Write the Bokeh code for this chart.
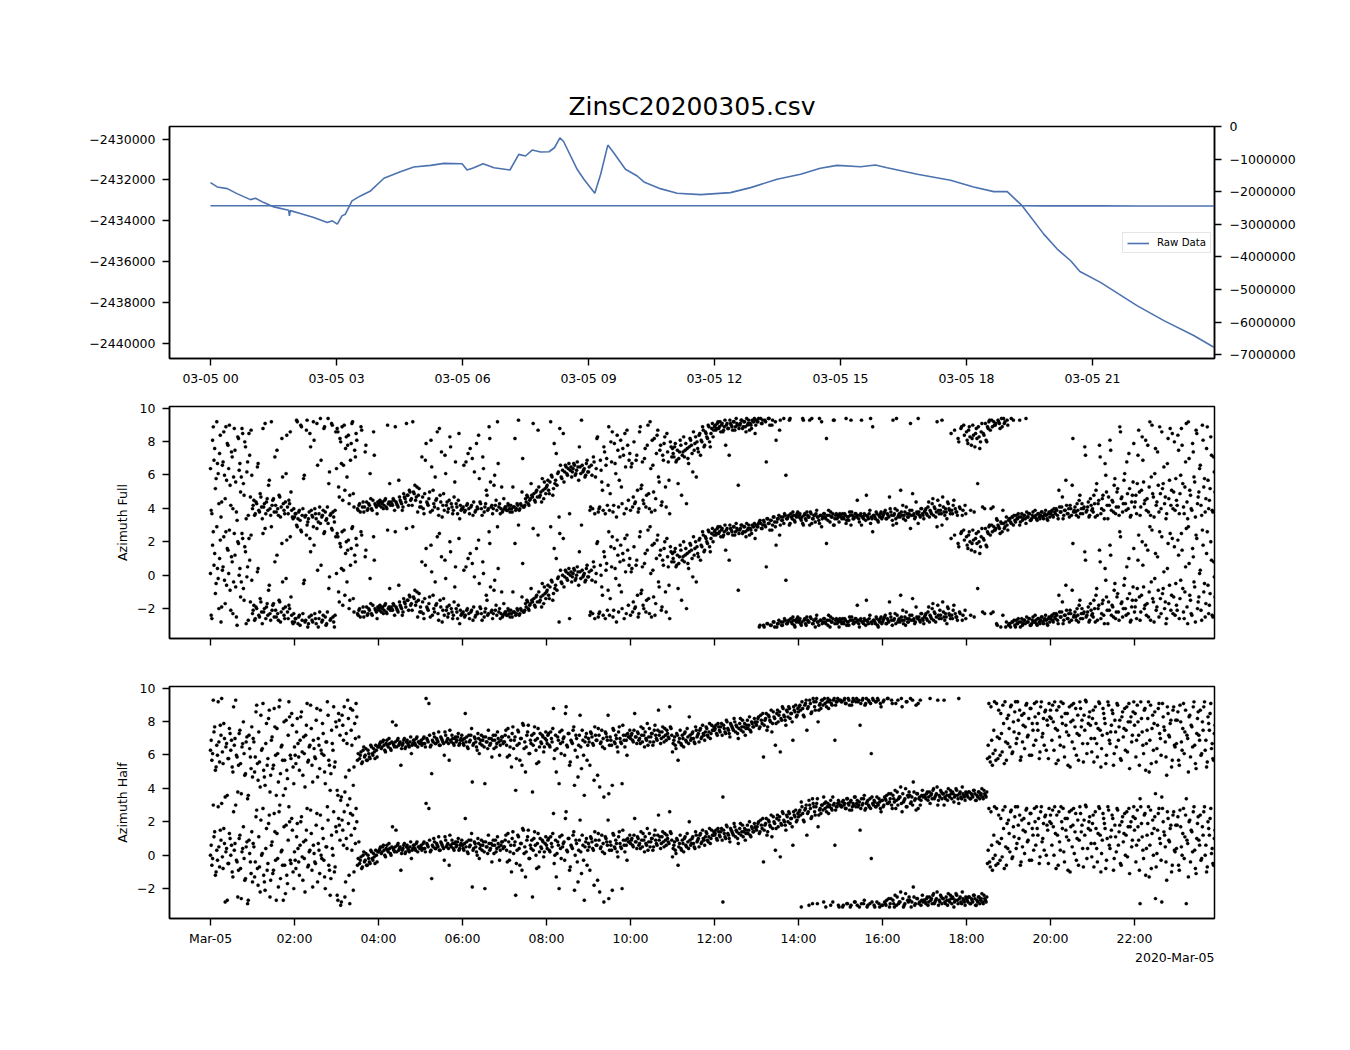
import numpy as np
from bokeh.plotting import figure
from bokeh.models import (Range1d, LinearAxis, FixedTicker, Legend, LegendItem, Title,
                          CustomLabelingPolicy)
from bokeh.layouts import column
from bokeh.embed import file_html
from bokeh.resources import INLINE

FONT = "DejaVu Sans"
TITLE = "ZinsC20200305.csv"

# ---- top panel: raw data (hours since 2020-03-05 00:00, value) ----
raw_hours = [0.00, 0.16, 0.40, 0.63, 0.95, 1.07, 1.27, 1.51, 1.86, 1.88, 1.90, 2.14, 2.46, 2.78,
             2.90, 3.02, 3.13, 3.21, 3.37, 3.57, 3.81, 4.13, 4.52, 4.84, 5.24, 5.56, 5.99, 6.11,
             6.27, 6.49, 6.75, 7.13, 7.34, 7.50, 7.66, 7.86, 8.06, 8.19, 8.32, 8.41, 8.73, 8.89,
             9.15, 9.29, 9.46, 9.60, 9.88, 10.16, 10.32, 10.71, 11.11, 11.67, 12.38, 12.86, 13.49,
             14.05, 14.52, 14.92, 15.48, 15.83, 16.11, 16.83, 17.62, 18.17, 18.65, 18.97, 19.33,
             19.84, 20.16, 20.48, 20.70, 21.19, 22.06, 22.70, 23.41, 23.89]
raw_values = [-2432132, -2432341, -2432424, -2432668, -2432961, -2432893, -2433107, -2433317,
              -2433478, -2433756, -2433500, -2433644, -2433839, -2434083, -2434000, -2434161,
              -2433756, -2433673, -2433024, -2432780, -2432537, -2431917, -2431595, -2431366,
              -2431285, -2431187, -2431205, -2431512, -2431400, -2431205, -2431400, -2431512,
              -2430748, -2430829, -2430537, -2430634, -2430619, -2430424, -2429937, -2430132,
              -2431478, -2431966, -2432649, -2431722, -2430293, -2430668, -2431478, -2431805,
              -2432097, -2432424, -2432649, -2432717, -2432619, -2432375, -2431966, -2431722,
              -2431429, -2431285, -2431351, -2431268, -2431400, -2431722, -2432015, -2432341,
              -2432570, -2432570, -2433268, -2434649, -2435380, -2435951, -2436473, -2437010,
              -2438146, -2438878, -2439610, -2440180]

left_ticks = [-2440000, -2438000, -2436000, -2434000, -2432000, -2430000]
right_ticks = [-7000000, -6000000, -5000000, -4000000, -3000000, -2000000, -1000000, 0]
top_x_ticks = [0, 3, 6, 9, 12, 15, 18, 21]
top_x_labels = ["03-05 00", "03-05 03", "03-05 06", "03-05 09", "03-05 12", "03-05 15",
                "03-05 18", "03-05 21"]
bot_x_ticks = [0, 2, 4, 6, 8, 10, 12, 14, 16, 18, 20, 22]
bot_x_labels = ["Mar-05", "02:00", "04:00", "06:00", "08:00", "10:00", "12:00", "14:00",
                "16:00", "18:00", "20:00", "22:00"]
az_ticks = [-2, 0, 2, 4, 6, 8, 10]
offset_label = "2020-Mar-05"

# ---- azimuth samples (radians), 30 per hour row; even minutes (a) and odd minutes (b) ----
minutes_a = list(range(0, 1440, 2))
minutes_b = list(range(1, 1440, 2))
azimuth_full_a = [
    0.1, -2.6, 2.6, 1.3, -0.5, 0.4, -2.0, 2.1, -1.9, 0.5, -0.3, 2.6, 1.6, 0.1, -0.9, 1.1, -2.3, 2.5, -0.7, -3.0, 1.9, 0.4, -0.4, 2.2, -1.5, 1.4, -0.1, -2.7, 0.9, 2.4,
    -2.3, -1.8, -2.6, -2.0, 0.4, -2.5, -1.6, -2.9, -2.2, 2.8, -1.9, -2.4, -0.6, -2.7, -2.1, -1.7, 0.8, -2.5, -2.3, -1.5, -2.8, 1.9, -2.0, -2.6, -0.2, -2.2, -1.8, 2.3, -2.4, -2.9,
    -2.8, -2.6, 2.9, -2.5, -3.0, 2.6, -2.3, -0.3, -2.7, 3.0, -2.9, 2.2, -2.4, -2.8, 1.8, -2.6, 2.8, -3.1, -2.2, 0.6, -2.7, 2.5, -2.5, -2.9, 3.1, -0.1, -2.6, 2.7, -2.8, -2.4,
    0.1, 2.3, -1.6, 1.7, 2.6, 0.3, -1.2, 2.0, 1.5, -2.0, 0.6, 2.8, -1.4, 1.2, 2.2, -2.3, -2.1, -2.5, 2.4, -1.9, -2.2, 1.5, -2.4, -2.0, -0.2, -2.3, -1.8, 0.9, -2.1, -2.6,
    -2.0, -1.8, -2.2, -1.9, -2.1, -1.7, -2.3, -2.0, -0.8, -1.9, -2.1, -1.8, 2.6, -2.0, -2.2, -1.6, -1.9, -2.4, -1.4, -1.7, 2.8, -1.5, -1.2, -1.8, -2.1, -1.3, -0.9, -1.6, -2.5, -1.1,
    -1.9, 0.8, -2.3, -1.4, 1.6, -2.0, -1.7, -2.5, 0.2, -1.2, -2.2, -1.8, 2.3, -2.7, -1.5, 1.1, -2.1, -2.4, -0.2, -1.9, -2.3, 2.0, -2.0, -2.6, -1.6, 0.5, -2.2, -1.8, -2.9, -2.4,
    -2.3, 0.3, -2.4, -2.1, 1.0, -2.6, -2.2, 0.7, -1.9, -2.5, 1.6, -2.3, -0.5, -2.0, -2.7, 0.1, -2.2, -1.2, -2.4, 2.6, -0.7, -2.1, -2.3, -0.3, -1.8, 2.9, -2.2, -2.6, -1.0, -2.4,
    -2.3, -2.2, -2.4, -2.1, -2.5, -2.3, -1.0, -2.2, -2.4, -2.0, 3.0, -2.3, -2.1, 0.7, -2.2, -1.7, -1.5, -2.0, -1.8, -0.8, -1.6, -1.4, -1.9, -1.2, 2.4, -1.6, -1.3, -0.5, -1.7, -1.1,
    -1.0, -0.6, -1.4, 2.9, -0.4, -1.1, -0.8, 1.0, -0.2, -2.8, 0.3, -0.5, 2.2, -0.1, 0.2, -0.3, 0.4, 0.0, -0.4, 0.1, 0.3, -0.2, 0.5, -0.6, 0.2, 3.0, -0.1, 0.1, -0.3, 0.6,
    -0.1, -2.4, 0.3, -2.3, 0.5, -0.4, 1.9, -2.5, -2.2, 0.0, -1.2, 1.4, -2.6, 0.7, -0.9, -2.4, 1.7, 2.3, -2.1, 0.4, -2.8, 1.2, -0.6, 1.8, -2.0, 0.9, 2.2, -2.3, 1.5, 0.6,
    -2.4, 0.4, -1.6, -2.0, 0.6, -1.2, -2.3, 2.6, -0.9, -1.8, 0.7, -2.2, 1.5, -1.4, 2.9, -2.5, 0.3, 1.9, -1.7, 2.1, -0.4, 1.2, -2.1, 0.9, 1.6, -1.0, 2.2, 0.5, -2.6, 1.4,
    1.3, 0.8, 1.6, 0.6, -0.8, 1.1, 1.5, 0.9, 2.0, 1.2, -2.0, 0.7, 1.4, 1.8, 1.0, 2.3, 1.6, -0.4, 1.3, 2.1, 0.9, 1.7, 2.4, 1.5, 2.2, 1.9, 2.6, 1.4, 2.5, 2.0,
    2.6, 2.4, 2.8, 2.5, 2.9, 2.7, 2.3, 2.6, 1.5, 2.8, 2.5, 3.0, 2.7, 2.4, 2.9, 2.6, 2.8, -0.9, 2.7, 3.0, 2.5, 2.9, 2.6, 3.1, 2.8, 2.4, 2.7, 3.0, 2.9, 2.2,
    3.0, 2.9, -3.1, 3.1, 2.8, -3.0, 3.0, 0.5, -2.9, 3.1, -3.0, 2.7, -2.8, -3.1, 1.8, -2.9, -2.7, 3.0, -3.0, -2.8, -2.6, -0.3, -2.9, -2.7, 3.1, -2.8, -2.5, -3.0, -2.7, -2.6,
    -2.8, -2.6, -3.0, 3.1, -2.7, -2.9, -2.5, -2.8, 3.0, -2.6, -2.9, -2.7, -3.1, -2.4, -2.8, 3.1, -2.7, -2.9, -2.6, -2.8, 1.9, -3.0, -2.7, -2.5, -2.8, 3.0, -2.9, -2.6, -2.7, -3.1,
    -2.7, -2.9, -2.8, -2.6, 3.1, -2.8, -3.0, -2.7, -2.5, -2.9, -2.8, -2.6, -1.8, -2.9, -2.7, 3.0, -2.8, -2.6, -3.0, -2.7, -2.9, -2.4, -2.8, 2.6, -2.7, -2.9, -2.6, -3.1, -2.8, -2.5,
    -2.8, -2.6, -2.4, -2.9, -2.7, -1.6, -2.5, -3.0, -2.7, -2.3, 3.1, -2.8, -2.6, -1.2, -2.7, -2.9, -2.5, -2.2, -2.8, -2.6, 2.8, -2.4, -2.7, -2.9, -1.9, -2.6, -2.5, -2.8, -2.3, -2.7,
    -2.5, -2.3, -2.7, -1.9, -2.4, -2.6, -1.7, -2.2, -2.8, 2.9, -2.4, -2.1, -2.6, -1.6, -2.5, -2.3, -2.9, -2.0, -2.4, 2.2, -2.6, -1.8, -2.3, -2.5, 1.9, -2.2, 2.5, -2.7, 2.7, -2.1,
    2.3, 1.6, 2.6, -2.4, 1.9, 2.1, 1.4, 2.5, -0.8, 2.0, 1.7, 2.8, 2.2, -2.3, 1.8, 2.6, 2.9, 2.4, 3.0, -2.2, 2.7, 2.8, -3.0, 2.9, 2.5, 3.1, -2.4, 2.8, -3.1, 3.0,
    -3.0, -2.9, 3.1, -2.8, -2.7, -3.1, -2.9, -2.6, 3.0, -2.8, -3.0, -2.7, -2.9, -2.5, -2.8, -2.6, -3.0, -2.7, -2.8, -2.4, -2.9, -2.6, -2.8, -2.7, -2.5, -2.9, -2.6, -2.7, -3.0, -2.5,
    -2.6, -2.4, -2.8, -2.5, -2.3, -2.7, -1.2, -2.5, -2.2, -2.9, -2.4, -0.6, -2.6, -2.3, -2.1, -2.7, 1.9, -2.4, -2.5, -2.0, -2.8, -1.5, -2.3, -2.6, -2.2, 0.9, -2.4, -1.9, -2.7, -2.1,
    -2.3, -1.5, -2.8, -0.8, -2.0, 1.5, -2.6, -1.7, -2.4, 0.4, -1.3, -2.9, -2.1, 1.2, -1.8, -2.5, -0.5, -2.2, -1.1, -2.7, 2.3, -1.6, -2.0, -0.2, -2.4, -1.4, 1.0, -2.8, -1.9, -0.7,
    -2.2, -1.5, -0.8, 2.4, -2.7, -1.2, 0.6, -2.0, 1.8, -1.7, -2.5, 2.9, -0.4, -1.4, -2.8, 1.3, -1.9, -0.9, 2.6, -2.3, -1.1, 0.2, -1.6, -2.6, 1.9, -0.6, -2.1, 2.2, -1.3, -2.4,
    -1.8, 2.1, -2.6, -0.3, 1.5, -2.2, -1.0, 2.8, -2.9, 0.7, -1.5, -2.4, 1.1, -0.7, 2.4, -2.0, -1.3, 0.3, -2.7, 1.8, -0.5, -1.7, 2.6, -2.3, -1.1, 0.9, -2.5, -0.1, 1.4, -1.9,
]
azimuth_full_b = [
    -2.4, 1.8, 0.6, -1.1, 2.9, -0.2, 1.0, -2.8, 0.3, 2.3, -1.7, -0.6, 1.5, 2.7, -2.1, 0.8, -0.4, 1.2, -2.5, 2.0, 0.0, -1.3, 2.5, -0.8, 1.7, -2.9, 0.5, 2.2, -1.6, -0.3,
    -2.1, -2.7, -1.9, 0.2, -2.4, -1.4, -2.2, 2.5, -2.0, -2.6, -1.7, -0.9, -2.3, 2.9, -1.8, -2.5, -2.1, 1.2, -2.7, -1.6, -2.2, -0.4, -2.4, -1.9, 2.1, -2.6, -2.0, -1.3, -2.8, -2.3,
    -2.6, 3.0, -2.9, -2.4, 2.7, -2.7, -0.5, -2.8, 2.4, -3.1, -2.5, 1.4, -2.7, 2.9, -2.3, -2.9, 0.3, -2.6, 3.1, -2.8, -2.4, 2.6, -3.0, -2.2, -0.8, -2.7, 2.8, -2.5, -3.1, 2.3,
    2.5, -1.0, 1.9, 0.4, -1.8, 2.7, 1.3, -0.4, 2.1, -1.5, 1.6, 2.9, -2.2, 0.8, 1.8, -2.4, -2.0, 2.6, -2.2, -2.5, 1.1, -1.9, -2.3, -2.1, -1.7, -2.4, 2.3, -2.0, -2.2, -1.9,
    -2.1, -1.9, -2.0, -2.3, -1.8, -2.2, 2.7, -1.9, -2.1, -2.0, -1.7, -2.4, -1.9, -2.1, -0.6, -1.8, -2.0, -2.2, -1.6, -1.9, -1.5, -2.1, -1.3, -1.7, 2.9, -1.4, -1.8, -1.0, -1.5, -2.2,
    -2.2, -1.6, -2.6, 0.6, -1.9, -2.1, -1.3, 1.8, -2.4, -2.0, -0.4, -1.7, -2.3, 2.5, -1.9, -2.8, -1.4, 0.9, -2.1, -2.5, -1.8, 1.4, -2.2, -2.4, -0.7, -2.0, -2.6, 2.2, -2.1, -2.3,
    -2.2, -2.5, 0.5, -2.0, -2.3, 1.3, -2.1, -2.7, -0.1, -2.4, -2.2, 2.1, -1.9, -2.3, 0.8, -2.5, -2.0, -1.5, -2.3, 1.9, -2.2, -2.6, -0.9, -2.1, -2.4, 0.4, -2.0, -2.3, -2.5, -1.7,
    -2.2, -2.4, -2.0, -2.3, -2.1, -2.5, -2.2, 1.9, -2.3, -2.1, -2.4, -2.0, -1.3, -2.2, -2.1, -1.9, -1.6, -2.1, -1.7, -1.5, 2.8, -1.8, -1.3, -1.6, -1.0, -1.5, -1.9, -1.2, -0.7, -1.4,
    -0.9, -1.2, -0.7, -0.3, -1.5, 1.6, -0.6, -0.9, -0.1, 2.5, -0.4, 0.0, -0.7, 0.3, -0.2, 0.1, -2.6, 0.2, -0.1, 0.4, -0.3, 0.0, 0.2, 1.4, -0.2, 0.3, 0.0, -0.4, 0.4, -0.1,
    0.2, -2.2, -0.3, 0.8, -2.6, 0.1, 2.0, -2.3, 0.6, -0.7, -2.4, 1.1, 0.3, -2.1, 2.6, -1.4, 0.5, -2.5, 1.6, -0.2, 2.1, -2.2, 0.8, -1.0, 1.3, -2.6, 0.2, 2.4, -1.8, 1.0,
    0.2, -2.2, 1.7, -1.9, 0.9, -2.5, 2.3, -1.1, 0.5, -2.0, 1.3, -1.5, 2.7, -2.3, 0.1, 1.8, -1.3, -2.4, 1.0, 2.4, -0.7, 1.5, -1.9, 0.6, 2.0, -2.2, 1.1, -0.6, 1.7, 0.8,
    1.0, 1.4, 0.5, 1.2, 0.7, 1.8, -1.5, 1.1, 0.8, 1.6, 1.3, 0.4, 1.9, 1.5, -0.1, 1.2, 2.0, 1.7, 1.1, 2.2, 1.8, 2.6, 1.4, 2.3, 2.0, 2.7, 1.7, 2.2, 2.8, 2.4,
    2.7, 2.5, 2.9, 2.6, 2.3, 2.8, 2.4, 3.0, 2.7, 2.5, 0.9, 2.8, 2.6, 2.9, 2.4, 3.1, 2.7, 2.5, 2.8, 3.0, 2.6, 2.9, 2.3, 2.7, 3.0, 2.8, 2.5, 2.9, 3.1, 2.7,
    2.9, 3.1, -3.0, 2.8, 3.0, -3.1, 2.9, -2.9, 3.1, 2.7, -3.0, 3.0, -2.8, 2.9, -3.1, -2.9, 2.4, -2.8, -3.0, 3.1, -2.7, -2.9, -2.8, 3.0, -2.6, -2.9, -2.7, -3.1, -2.8, -2.5,
    -2.7, -2.9, -2.8, 3.0, -2.6, -3.0, -2.7, -2.8, -2.5, 3.1, -2.9, -2.7, -2.6, -2.8, -3.0, -2.7, 2.9, -2.8, -2.6, -2.9, -2.7, -2.4, -3.1, -2.8, -2.6, 3.0, -2.7, -2.9, -2.8, -2.6,
    -2.8, -2.6, -2.9, -2.7, -3.0, -2.8, -2.5, 3.0, -2.7, -2.9, -2.6, -2.8, -2.7, -3.1, -2.6, -2.8, -2.9, -2.7, -1.5, -2.8, -2.6, 3.1, -2.9, -2.7, -2.8, -2.5, -3.0, -2.7, -2.6, -2.9,
    -2.7, -2.5, -2.9, -2.6, -2.8, -2.3, -2.7, 3.0, -2.6, -2.9, -2.4, -2.7, -2.8, -2.5, -2.1, -2.7, -3.0, -2.6, -2.8, -2.4, -2.7, -1.4, -2.6, -2.8, -2.5, 3.1, -2.7, -2.3, -2.6, -2.9,
    -2.4, -2.6, -2.2, -2.8, -2.5, -2.0, -2.7, -2.3, -2.5, -1.8, -2.6, -2.4, 3.0, -2.2, -2.7, -2.5, -1.9, -2.3, -2.6, -2.4, -2.1, 2.4, -2.5, -2.7, 1.7, -2.3, 2.6, -2.4, 2.1, -2.6,
    1.8, 2.4, 2.0, 1.5, 2.7, -2.5, 2.2, 1.9, 2.6, 1.3, 2.3, -2.2, 2.1, 2.8, 1.7, 2.5, 3.0, -2.3, 2.6, 2.9, 2.7, -2.9, 3.0, 2.8, -3.1, 2.6, 3.1, 2.9, -2.8, 2.7,
    -2.9, -3.1, -2.8, 3.0, -3.0, -2.7, -2.9, -2.8, -3.1, -2.6, -2.9, -2.7, 3.1, -2.8, -2.6, -3.0, -2.9, -2.5, -2.8, -2.7, -3.0, -2.6, -2.9, -2.5, -2.8, -2.7, -2.4, -2.9, -2.6, -2.8,
    -2.5, -2.7, -2.3, -2.6, -2.4, -2.9, -2.2, -2.5, -1.6, -2.7, -2.4, -2.1, -2.6, -2.8, -2.3, -0.9, -2.5, -2.2, -2.7, -2.4, -1.8, -2.6, -2.0, -2.3, 1.4, -2.5, -2.2, -2.8, -1.7, -2.4,
    -2.5, -2.0, -1.2, -2.7, -1.8, 0.8, -2.3, -1.5, -2.9, -0.3, -2.1, -1.6, 1.8, -2.4, -1.9, -0.9, -2.6, -1.3, -2.2, 2.6, -1.7, -2.5, -0.6, -2.0, 0.5, -2.3, -1.1, -2.7, -1.5, 1.6,
    -1.9, -2.6, 0.9, -1.3, -2.2, 2.0, -0.7, -1.8, -2.4, 1.5, -1.0, -2.7, 2.7, -1.6, -0.2, -2.1, 1.1, -2.5, -1.4, 2.3, -0.8, -2.0, -2.9, 0.4, -1.7, 2.5, -1.2, -2.3, 1.7, -0.5,
    -2.1, 1.2, -1.4, 2.5, -0.8, -2.6, 0.5, -1.9, 2.9, -1.2, -2.3, 1.6, -0.4, -2.8, 2.2, -1.6, 0.1, -2.1, 2.7, -1.0, -2.5, 1.3, -0.6, -1.8, 2.0, -2.4, 0.8, -1.3, 2.4, -2.2,
]
azimuth_half_a = [
    0.0, -0.6, 3.0, 1.4, -1.0, -0.3, 0.5, 1.5, 3.1, -0.8, 0.7, 0.2, -2.7, -0.5, 1.0, 0.6, -1.3, 0.3, 3.0, -0.4, -0.9, 1.2, -2.6, 0.4, -0.2, -1.4, 0.8, -2.7, 0.1, -1.1,
    -1.6, 0.5, -0.4, 2.7, -1.8, -0.7, 2.1, 0.1, -1.2, -2.1, 1.6, -0.5, 2.4, -1.5, 0.8, -0.9, 1.4, -2.7, -0.2, 2.6, -1.4, 0.3, -2.7, -0.6, 1.8, -1.7, 2.9, -0.3, 2.2, -1.0,
    0.2, -0.8, 1.9, -0.4, 0.6, 2.3, -1.5, -0.2, 0.9, 2.8, -0.6, 0.3, 1.3, -1.9, 0.1, -0.5, 2.5, 0.7, -1.1, 0.0, 1.6, -0.3, -2.0, 0.5, 2.1, -0.9, -1.4, 0.4, 2.6, -0.7,
    1.4, -2.7, 1.8, -3.0, 2.1, 0.6, -2.5, 1.0, 3.0, -1.2, 2.5, 0.3, -2.1, 1.6, 2.8, -0.6, 0.8, -0.3, -0.8, 0.0, -0.4, 0.1, -0.6, -0.2, -0.5, 0.2, -0.3, -0.1, 0.3, -0.4,
    0.2, 0.4, 0.1, 0.5, 0.3, -0.1, 0.6, 0.2, 0.4, 0.0, 1.7, 0.3, 0.5, 0.2, 0.7, 0.4, -0.9, 0.3, 0.6, 0.1, 0.5, 0.4, 0.2, 0.8, 0.3, 0.6, 0.4, 0.7, 0.2, 0.5,
    0.5, 0.3, 0.7, 0.4, 3.1, 0.6, 2.8, 0.2, -1.4, 0.5, 0.8, 0.4, 0.6, 1.1, 0.3, 0.7, 0.5, -0.3, 0.9, 0.6, 0.4, 1.2, 0.5, 0.7, 0.3, 0.8, 0.6, 1.0, 0.4, 0.7,
    0.6, 0.3, 2.2, 0.8, 0.1, 0.5, 0.9, -1.9, 0.4, 0.7, 0.2, 1.0, -0.2, 0.6, 0.3, 0.8, -2.0, 0.5, 0.1, 0.7, 0.4, -0.4, 0.9, 0.6, 0.2, 1.1, 0.5, 0.3, 0.8, 0.4,
    0.5, 1.2, -0.4, 0.8, 0.2, -1.0, 1.4, 0.6, -2.4, 0.3, 1.1, -0.6, 0.7, 1.6, 0.1, -1.3, 0.9, 1.5, -0.2, 0.4, -2.5, 1.0, 0.6, -0.8, 1.3, 0.2, 0.5, 0.9, -0.1, 0.7,
    0.6, 0.9, 0.3, 1.1, 0.5, 2.5, 0.0, -1.3, 0.8, -2.0, 0.4, 1.2, 0.7, -0.3, 2.6, 0.2, 1.0, -0.7, 0.5, 1.2, -2.1, 0.9, -0.4, 0.3, 2.1, -1.1, 0.6, -2.7, 0.8, -0.6,
    0.7, -0.9, 1.0, 0.4, -1.8, 0.9, 0.6, 1.3, -2.2, 0.5, 0.2, -2.8, 1.1, 0.8, 2.1, 0.3, 0.6, -2.1, 1.2, 0.4, 0.7, -0.1, 1.4, 0.5, -2.0, 0.9, 0.2, 0.6, 1.0, 0.8,
    0.7, 1.0, 0.5, 2.2, 0.8, 1.1, 0.6, 0.4, 0.9, 1.3, 0.2, 0.7, 1.6, 0.8, 0.5, 1.0, 0.3, 1.2, 0.9, 0.6, 2.4, 1.1, 0.7, 1.4, 0.5, 0.9, 1.2, 0.8, 2.6, 1.3,
    -0.1, 0.6, 0.3, 1.0, -0.6, 0.7, 0.4, 0.9, 0.2, 1.1, 0.5, 0.8, 2.0, 0.6, 1.0, 0.7, 0.4, 1.2, 0.9, 0.5, 1.3, 0.8, 1.0, 0.6, 1.4, 0.9, 1.1, 0.7, 1.5, 1.2,
    1.2, 1.5, 0.9, 1.4, 1.1, 1.6, -2.8, 1.3, 1.0, 1.7, 1.2, 0.8, 1.5, 1.3, 1.9, 1.1, 1.4, 0.7, 1.6, 1.2, 1.8, 1.4, 0.9, 1.5, 1.3, 2.0, 1.1, 1.6, 1.4, 1.7,
    1.5, 1.9, 1.3, 2.1, 1.6, -0.4, 1.8, 2.2, 1.4, 2.0, 1.7, 1.1, 2.3, 1.9, 1.6, 2.4, 2.1, -0.1, 1.8, 2.5, 2.0, 1.5, 2.3, 2.6, 1.9, 2.2, 0.6, 2.4, 2.7, 2.1,
    2.3, 2.7, -3.1, 2.5, 2.0, 2.8, 1.2, 2.6, 3.0, 2.2, -2.9, 2.9, 2.4, 3.1, 1.7, 2.7, 2.5, 3.0, -2.8, 2.8, 2.6, 3.1, 2.9, -3.0, 2.7, 3.0, 0.6, 2.9, 3.1, -3.1,
    3.0, 2.9, -3.0, 3.1, 2.8, -2.9, 3.0, -3.1, 2.7, 3.1, -2.8, 2.9, -3.0, 3.0, 1.5, -2.9, 3.1, -2.7, 2.8, -3.1, 3.0, -2.9, -0.2, 3.1, -3.0, 2.9, -2.8, 3.0, -3.1, 2.6,
    -3.0, 3.0, -2.9, -2.7, 3.1, -3.1, -2.6, 2.8, -2.9, -2.4, -3.0, 3.0, -2.8, -2.2, 2.6, -3.1, -2.9, 2.9, -2.7, -2.5, 3.1, -2.8, -1.9, -3.0, 2.7, -2.6, -2.9, 3.0, -2.7, -2.8,
    -2.7, -2.9, -2.5, -2.8, 3.1, -2.6, -2.4, -2.9, -2.7, -2.2, -3.0, -2.8, -2.5, -2.6, 3.0, -2.9, -2.7, -2.3, -2.8, -2.6, -2.5, -3.1, -2.7, -2.4, -2.9, -2.6, -2.8, -2.2, -2.7, -3.0,
    -2.6, -2.8, -2.5, -2.9, -2.7, -2.4, -2.6, -3.0, -2.8, -2.5, -2.7, -2.3, -2.9, -2.6, -2.8, -0.5, 2.8, -0.7, 0.6, -0.2, 2.9, -0.6, 0.8, 2.4, -0.3, 1.0, 2.7, -0.8, 0.5, 1.9,
    2.1, 0.2, 2.7, -0.1, 1.1, 2.9, 0.7, 1.8, 2.4, -0.4, 0.5, 2.2, 1.4, 2.8, 0.9, -0.3, 2.5, 1.6, 0.3, 2.0, 2.9, 1.2, -0.5, 2.6, 0.8, 1.9, 2.3, 0.0, 1.5, 2.8,
    2.4, 0.6, 1.7, 2.9, -0.8, 1.2, 2.6, 0.3, 2.0, 2.8, -0.4, 1.5, 2.2, 0.9, -1.0, 2.7, 1.8, 0.1, 2.5, 1.0, -0.6, 2.9, 1.4, 0.4, 2.1, 3.0, -0.2, 1.6, 2.3, 0.7,
    1.9, -0.7, 2.6, 0.4, 1.3, 2.8, -1.0, 0.9, 2.2, 1.6, -0.3, 2.9, 0.6, 1.1, 2.4, -0.9, 1.8, 0.2, 2.7, 1.4, -0.5, 2.0, 0.8, 2.5, 1.2, -0.1, 2.8, 1.7, 0.5, 2.3,
    1.5, -0.4, 2.7, 0.9, -2.9, 1.9, 0.3, 2.4, -1.2, 1.2, 2.9, 0.6, -0.8, 2.1, 1.6, -2.6, 0.1, 2.5, 1.0, -0.3, 2.8, 1.4, 0.5, -1.5, 2.2, 0.8, 1.8, -0.6, 2.6, 0.2,
    0.4, 2.3, -0.9, 1.7, 0.0, 2.8, 1.1, -2.9, 0.7, 2.0, -0.4, 1.4, 2.6, 0.3, -1.1, 1.9, 0.9, 2.4, -0.2, 1.2, 2.9, 0.6, -0.7, 1.6, 2.2, 0.1, -0.5, 1.0, 2.5, 0.8,
]
azimuth_half_b = [
    0.6, -0.2, 1.1, -1.2, 0.3, 2.9, -0.7, 0.9, -0.1, 1.6, -2.8, 0.4, -0.5, 1.3, 0.0, -1.0, 2.6, 0.7, -0.3, -2.5, 1.0, -0.8, 0.2, 1.7, -1.5, 0.5, -2.9, 0.9, -0.4, 1.4,
    0.7, -1.3, 2.3, -0.8, 1.1, -2.2, 0.0, 2.8, -1.6, 0.4, -0.9, 1.9, -2.5, 0.6, -1.1, 2.5, -0.3, 1.3, -1.9, 3.0, 0.2, -0.6, 1.7, -2.3, -1.2, 0.9, 2.0, -0.5, 1.5, -2.0,
    -0.3, 1.1, 0.4, -1.2, 2.0, -0.1, 0.8, -2.2, 1.5, -0.7, 0.2, 2.7, -0.9, 0.6, -0.4, 1.8, -1.6, 0.3, 2.4, -0.2, 1.0, -1.3, 0.5, 2.9, -0.6, -2.4, 1.2, 0.0, -1.0, 1.7,
    -2.4, 2.2, 0.9, -2.8, 1.5, 2.6, -1.6, 0.4, 1.9, -2.9, 1.2, 2.4, -1.0, 0.7, 2.0, -0.2, -0.5, -0.1, -0.7, 0.2, -0.3, -0.6, 0.0, -0.4, 0.3, -0.2, 0.1, -0.5, 0.0, 0.2,
    0.3, 0.5, 0.2, 0.6, 0.0, 0.4, 0.3, 0.7, 0.1, 0.5, 0.4, 0.2, 1.5, 0.6, 0.3, 0.5, 0.1, 0.4, 0.7, 0.2, 0.6, 0.3, 0.5, -0.2, 0.4, 0.6, 0.3, 0.8, 0.5, 0.4,
    0.6, 0.4, 0.8, 0.2, 0.7, 0.5, 0.9, 0.3, 0.6, 1.0, 0.4, 0.7, 0.5, 0.3, 0.8, 0.6, 0.4, 1.1, 0.5, 0.7, -0.6, 0.6, 0.9, 0.4, 0.7, 0.5, 0.8, 0.3, 0.6, 0.9,
    0.4, 0.7, 0.5, 0.2, 0.9, 0.6, 1.3, 0.3, 0.8, 0.5, 0.0, 0.7, 0.4, 0.9, 0.6, 0.2, 0.8, 0.5, 1.2, 0.3, 0.7, 0.6, 0.1, 0.9, 0.4, 0.7, -0.3, 0.6, 0.8, 0.5,
    0.9, 0.3, 1.3, -0.3, 0.6, 1.0, 0.1, 0.8, -0.5, 1.2, 0.4, 0.7, -0.9, 1.5, 0.5, 0.2, 1.1, -0.2, 0.6, 0.9, 0.3, 1.4, 0.0, 0.7, -0.7, 1.0, 0.4, 0.8, 0.2, 1.1,
    0.4, 1.0, 0.2, 0.7, 1.3, -0.5, 0.9, 0.1, 0.6, 1.1, -0.2, 0.5, 0.8, 2.2, 0.3, 1.0, -0.9, 0.6, 0.4, 1.4, 0.0, 0.7, -1.6, 0.9, 0.2, 1.2, -0.3, 0.5, 1.0, 0.3,
    0.5, 1.1, 0.8, 0.3, 1.4, 0.6, -1.5, 0.9, 0.4, 1.2, 0.7, 0.1, 1.0, 0.6, -2.6, 0.8, 0.3, 1.3, 0.5, 0.9, 0.2, 1.1, 0.7, 0.4, 1.5, 0.6, 0.9, -0.3, 0.8, 1.2,
    0.9, 0.6, 1.2, 0.8, 0.4, 1.0, 0.7, 1.4, 0.5, 0.9, 1.1, 0.6, 0.3, 1.3, 0.8, 1.0, 0.5, 1.5, 0.7, 1.2, 0.9, 0.4, 1.1, 0.8, 1.3, 0.6, 1.0, 0.7, 1.4, 0.9,
    0.4, 0.8, 0.1, 0.9, 0.5, 1.2, 0.3, 0.7, 1.0, 0.6, 1.3, 0.4, 0.9, 0.7, 1.1, 0.5, 1.4, 0.8, 1.0, 1.2, 0.7, 1.5, 0.9, 1.1, 1.3, 0.8, 1.6, 1.0, 1.2, 1.4,
    1.3, 1.0, 1.6, 1.2, 1.4, 0.9, 1.5, 1.1, 1.8, 1.3, 1.0, 1.6, 1.4, 1.2, 1.7, 1.5, 1.0, 1.3, 1.9, 1.4, 1.1, 1.6, 1.3, 1.8, 1.5, 1.2, 1.7, 1.4, 1.9, 1.6,
    1.7, 2.0, 1.4, 1.8, 2.2, 1.5, 1.9, 1.2, 2.1, 1.8, 2.4, 1.6, 2.0, 0.3, 2.2, 1.7, 2.3, 1.9, 2.6, 2.1, 1.8, 2.4, 2.0, 2.5, 2.2, 1.7, 2.6, 2.3, 2.0, 2.5,
    2.6, 2.4, 2.9, 2.1, 2.7, 3.0, 2.5, -3.0, 2.8, 2.3, 3.1, 2.6, 2.9, -2.9, 2.4, 2.8, 3.0, 2.7, 3.1, -3.1, 2.9, 2.5, 3.0, 2.8, -2.8, 3.1, 2.7, 2.9, -3.0, 3.0,
    2.9, -3.1, 3.0, 2.8, -2.9, 3.1, 2.7, -3.0, 2.9, 3.0, -2.8, 3.1, 2.9, -3.1, 2.8, 3.0, -2.9, 2.7, 3.1, -3.0, 2.9, 2.8, -2.8, 3.0, -3.1, 2.9, 3.1, -2.9, 2.8, -3.0,
    2.9, -2.8, -3.0, 3.1, -2.6, -2.9, 3.0, -2.7, -3.1, 2.8, -2.5, -2.9, -2.8, 3.1, -2.6, -3.0, -2.3, 2.9, -2.8, -2.7, -3.1, 3.0, -2.5, -2.9, -2.6, 2.8, -2.8, -3.0, -2.4, -2.7,
    -2.8, -2.6, -3.0, -2.5, -2.7, -2.9, -2.3, -2.8, -2.6, 3.0, -2.7, -2.4, -2.9, -2.6, -2.8, -2.5, -3.0, -2.7, -2.4, -2.9, -2.6, -2.8, -2.3, -2.7, 3.1, -2.5, -2.9, -2.6, -2.8, -2.5,
    -2.7, -2.5, -2.9, -2.6, -2.8, -2.4, -3.0, -2.7, -2.5, -2.9, -2.6, -2.8, -2.4, -2.7, -2.5, 0.3, -0.4, 2.6, -0.9, 1.2, 0.0, 2.8, -0.5, 0.7, 2.2, -0.1, 1.6, 2.9, -0.6, 0.4,
    1.3, 2.6, -0.2, 1.7, 2.3, 0.4, 2.9, 1.0, -0.6, 2.1, 1.5, 0.1, 2.7, 0.8, 1.9, 2.5, -0.3, 1.2, 2.8, 0.6, 1.6, 2.2, -0.1, 2.9, 1.0, 0.3, 2.4, 1.8, -0.5, 2.0,
    1.9, 2.7, 0.0, 1.3, 2.4, -0.6, 0.8, 2.9, 1.6, 0.2, 2.2, 1.1, -0.9, 2.6, 1.7, 0.5, 2.8, 1.4, -0.3, 2.1, 0.9, 2.5, 1.8, -0.7, 1.2, 2.9, 0.4, 2.0, 1.5, -0.1,
    2.4, 0.7, 1.6, -0.4, 2.9, 1.2, 0.1, 2.5, 1.9, -0.8, 1.0, 2.7, 0.4, 1.5, 2.2, -0.2, 1.1, 2.8, 0.6, 1.8, -0.6, 2.3, 1.3, 0.0, 2.6, 1.7, -1.1, 2.0, 0.9, 2.9,
    2.2, 0.6, 1.7, -0.9, 2.9, 1.1, -0.2, 2.5, 0.4, 1.9, -1.3, 2.7, 1.3, 0.0, 2.3, -0.7, 1.5, 2.8, 0.7, -2.8, 2.0, 1.2, -0.4, 2.6, 0.9, 1.6, -1.0, 2.4, 0.3, 1.8,
    1.8, -0.6, 2.7, 0.5, 1.3, -0.2, 2.4, 0.9, -1.3, 2.1, 1.5, 0.2, 2.9, -0.8, 1.0, 2.3, 0.6, -0.3, 1.7, 2.6, 0.0, -1.0, 2.0, 1.2, 2.8, 0.4, -0.6, 1.5, 2.2, 0.7,
]

# ---- styling helpers ----
LBL = "12.5px"
X_RANGE = (-0.976, 23.905)


def minus(v):
    return f"{v}".replace("-", "\u2212")


def base_fig(height, y_range, top, bottom):
    p = figure(width=1350, height=height, x_range=Range1d(*X_RANGE), y_range=y_range,
               output_backend="svg", toolbar_location=None)
    p.min_border_left = 169
    p.min_border_right = 136
    p.min_border_top = top
    p.min_border_bottom = bottom
    p.outline_line_color = "black"
    p.outline_line_width = 1.5
    p.outline_line_alpha = 1.0
    p.xgrid.visible = False
    p.ygrid.visible = False
    p.background_fill_color = "white"
    p.border_fill_color = "white"
    return p


def style_axis(ax):
    ax.axis_line_color = "black"
    ax.axis_line_width = 1.5
    ax.major_tick_out = 7
    ax.major_tick_in = 0
    ax.minor_tick_out = 0
    ax.minor_tick_in = 0
    ax.major_tick_line_width = 1.4
    ax.major_tick_line_color = "black"
    ax.major_label_text_font = FONT
    ax.major_label_text_font_size = LBL
    ax.major_label_text_color = "black"
    ax.major_label_standoff = 5
    ax.axis_label_text_font = FONT
    ax.axis_label_text_font_size = LBL
    ax.axis_label_text_font_style = "normal"
    ax.axis_label_text_color = "black"


LINE_COLOR = "#4c72b0"

# ---- figure 1 ----
p1 = base_fig(390, Range1d(-2440732, -2429385), 126, 32)
p1.title.text = TITLE
p1.title.align = "center"
p1.title.text_font = FONT
p1.title.text_font_size = "25px"
p1.title.text_font_style = "normal"
p1.title.text_color = "black"
p1.title.standoff = 12
p1.extra_y_ranges = {"right": Range1d(-7120000, 0)}

p1.line(raw_hours, raw_values, line_color=LINE_COLOR, line_width=1.6)
r_right = p1.line(raw_hours, raw_values, line_color=LINE_COLOR, line_width=1.6,
                  y_range_name="right")

style_axis(p1.xaxis[0])
p1.xaxis.ticker = FixedTicker(ticks=top_x_ticks)
p1.xaxis.major_label_overrides = {t: l for t, l in zip(top_x_ticks, top_x_labels)}
style_axis(p1.yaxis[0])
p1.yaxis.major_label_standoff = 7
p1.yaxis.ticker = FixedTicker(ticks=left_ticks)
p1.yaxis.major_label_overrides = {t: minus(t) for t in left_ticks}

rax = LinearAxis(y_range_name="right", ticker=FixedTicker(ticks=right_ticks))
style_axis(rax)
rax.major_label_standoff = 8
rax.major_label_overrides = {t: minus(t) for t in right_ticks}
p1.add_layout(rax, "right")

legend = Legend(items=[LegendItem(label="Raw Data", renderers=[r_right])],
                location=(953, 105))
legend.label_text_font = FONT
legend.label_text_font_size = "10.2px"
legend.label_text_color = "black"
legend.border_line_color = "#cccccc"
legend.border_line_width = 1
legend.background_fill_alpha = 0.8
legend.padding = 4
legend.margin = 0
legend.spacing = 0
legend.glyph_width = 22
legend.glyph_height = 10
legend.label_height = 10
legend.label_standoff = 8
p1.add_layout(legend)

# ---- figures 2 & 3 ----
hours = np.array(minutes_a + minutes_b) / 60.0
xs = np.concatenate([hours, hours])
two_pi = 2 * np.pi


def az_fig(height, top, bottom, values, label, show_x):
    p = base_fig(height, Range1d(-3.79, 10.10), top, bottom)
    th = np.array(values)
    # each angle is shown at its value and one full turn higher
    p.scatter(xs, np.concatenate([th, th + two_pi]), size=3.4, marker="circle",
              fill_color="black", line_color="black", line_width=0.2)
    style_axis(p.xaxis[0])
    p.xaxis.ticker = FixedTicker(ticks=bot_x_ticks)
    if show_x:
        p.xaxis.major_label_overrides = {t: l for t, l in zip(bot_x_ticks, bot_x_labels)}
    else:
        # shared time axis: ticks only, labels are on the lowest panel
        p.xaxis.major_label_policy = CustomLabelingPolicy(code="return []")
    style_axis(p.yaxis[0])
    p.yaxis.major_label_standoff = 7
    p.yaxis.ticker = FixedTicker(ticks=az_ticks)
    p.yaxis.major_label_overrides = {t: minus(t) for t in az_ticks}
    p.yaxis.axis_label = label
    p.yaxis.axis_label_standoff = 4
    return p


p2 = az_fig(272, 16, 24, azimuth_full_a + azimuth_full_b, "Azimuth Full", False)
p3 = az_fig(376, 24, 120, azimuth_half_a + azimuth_half_b, "Azimuth Half", True)
off = Title(text=offset_label, align="right", text_font=FONT, text_font_size=LBL,
            text_font_style="normal", text_color="black", standoff=-2)
p3.add_layout(off, "below")

layout = column(p1, p2, p3, spacing=0)
open("out.html", "w").write(file_html(layout, INLINE))
